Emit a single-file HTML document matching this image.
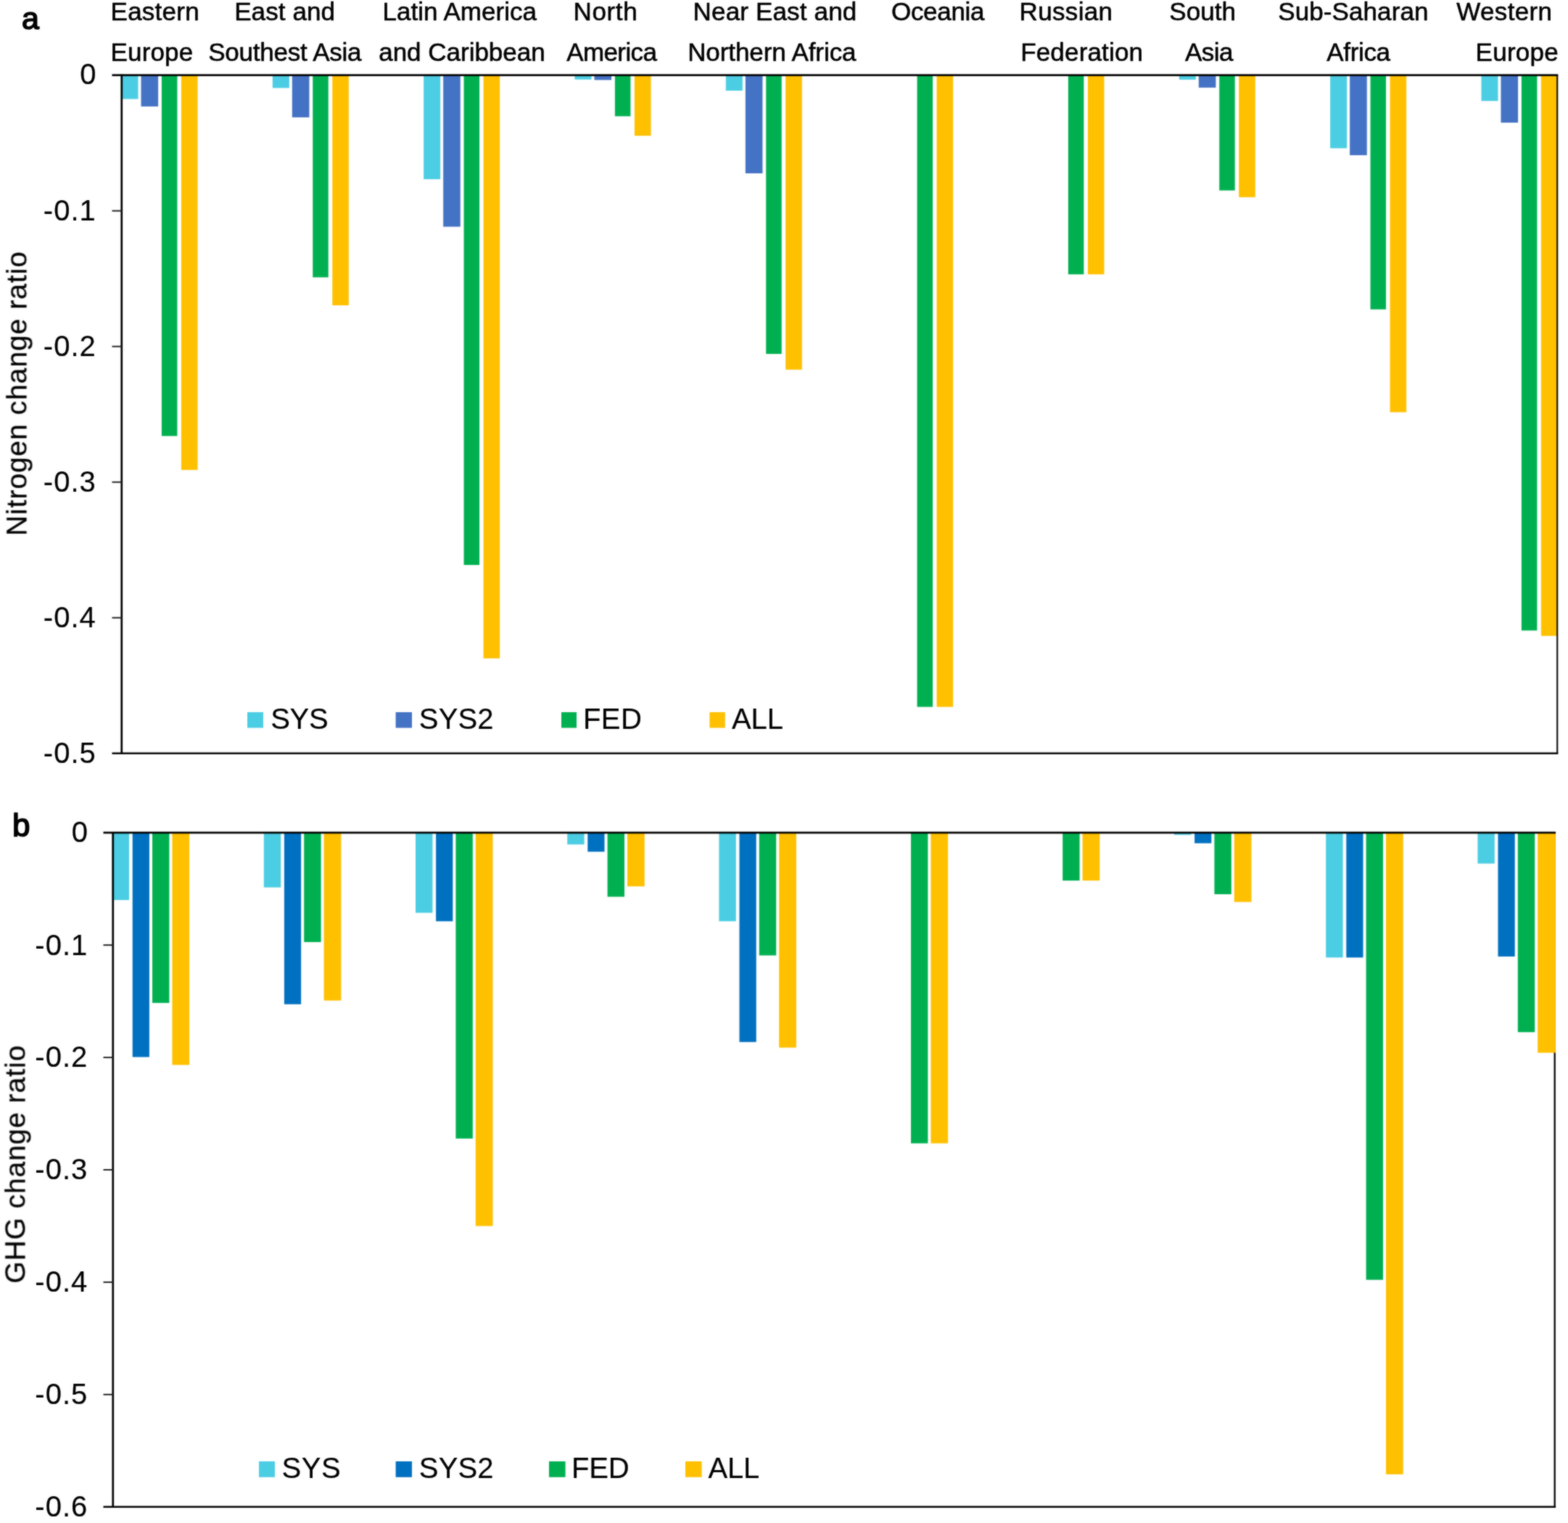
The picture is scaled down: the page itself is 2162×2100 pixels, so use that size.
<!DOCTYPE html>
<html lang="en">
<head>
<meta charset="utf-8">
<title>Nitrogen and GHG change ratio by region</title>
<style>
html,body{margin:0;padding:0;background:#fff;}
body{width:2162px;height:2100px;overflow:hidden;}
svg{display:block;}
text{white-space:pre;}
</style>
</head>
<body>
<svg width="2162" height="2100" viewBox="0 0 2162 2100">
<rect width="2162" height="2100" fill="#fff"/>
<defs><filter id="fs" filterUnits="userSpaceOnUse" x="0" y="0" width="2162" height="2100" color-interpolation-filters="sRGB"><feGaussianBlur in="SourceGraphic" stdDeviation="0.8" result="b"/><feComposite in="b" in2="SourceGraphic" operator="arithmetic" k1="0" k2="0.6" k3="0.4" k4="0"/></filter><filter id="ft" filterUnits="userSpaceOnUse" x="0" y="0" width="2162" height="2100" color-interpolation-filters="sRGB"><feGaussianBlur in="SourceGraphic" stdDeviation="0.8" result="b"/><feComposite in="b" in2="SourceGraphic" operator="arithmetic" k1="0" k2="0.55" k3="0.45" k4="0"/></filter></defs>
<g filter="url(#fs)" shape-rendering="geometricPrecision">
<rect x="167.50" y="103.70" width="23.00" height="32.80" fill="#4BCDE3"/>
<rect x="194.50" y="103.70" width="23.60" height="43.10" fill="#4472C4"/>
<rect x="222.90" y="103.70" width="21.50" height="497.50" fill="#00B050"/>
<rect x="249.90" y="103.70" width="22.60" height="544.30" fill="#FFC000"/>
<rect x="375.83" y="103.70" width="23.00" height="17.60" fill="#4BCDE3"/>
<rect x="402.83" y="103.70" width="23.60" height="58.10" fill="#4472C4"/>
<rect x="431.23" y="103.70" width="21.50" height="278.70" fill="#00B050"/>
<rect x="458.23" y="103.70" width="22.60" height="317.30" fill="#FFC000"/>
<rect x="584.16" y="103.70" width="23.00" height="143.40" fill="#4BCDE3"/>
<rect x="611.16" y="103.70" width="23.60" height="208.90" fill="#4472C4"/>
<rect x="639.56" y="103.70" width="21.50" height="675.30" fill="#00B050"/>
<rect x="666.56" y="103.70" width="22.60" height="804.10" fill="#FFC000"/>
<rect x="792.49" y="103.70" width="23.00" height="5.90" fill="#4BCDE3"/>
<rect x="819.49" y="103.70" width="23.60" height="6.60" fill="#4472C4"/>
<rect x="847.89" y="103.70" width="21.50" height="56.60" fill="#00B050"/>
<rect x="874.89" y="103.70" width="22.60" height="83.50" fill="#FFC000"/>
<rect x="1000.82" y="103.70" width="23.00" height="21.30" fill="#4BCDE3"/>
<rect x="1027.82" y="103.70" width="23.60" height="135.30" fill="#4472C4"/>
<rect x="1056.22" y="103.70" width="21.50" height="384.30" fill="#00B050"/>
<rect x="1083.22" y="103.70" width="22.60" height="406.00" fill="#FFC000"/>
<rect x="1264.55" y="103.70" width="21.50" height="871.00" fill="#00B050"/>
<rect x="1291.55" y="103.70" width="22.60" height="871.00" fill="#FFC000"/>
<rect x="1472.88" y="103.70" width="21.50" height="274.60" fill="#00B050"/>
<rect x="1499.88" y="103.70" width="22.60" height="274.60" fill="#FFC000"/>
<rect x="1625.81" y="103.70" width="23.00" height="6.10" fill="#4BCDE3"/>
<rect x="1652.81" y="103.70" width="23.60" height="17.10" fill="#4472C4"/>
<rect x="1681.21" y="103.70" width="21.50" height="158.90" fill="#00B050"/>
<rect x="1708.21" y="103.70" width="22.60" height="168.20" fill="#FFC000"/>
<rect x="1834.14" y="103.70" width="23.00" height="100.70" fill="#4BCDE3"/>
<rect x="1861.14" y="103.70" width="23.60" height="110.30" fill="#4472C4"/>
<rect x="1889.54" y="103.70" width="21.50" height="322.90" fill="#00B050"/>
<rect x="1916.54" y="103.70" width="22.60" height="464.70" fill="#FFC000"/>
<rect x="2042.47" y="103.70" width="23.00" height="35.50" fill="#4BCDE3"/>
<rect x="2069.47" y="103.70" width="23.60" height="65.40" fill="#4472C4"/>
<rect x="2097.87" y="103.70" width="21.50" height="765.70" fill="#00B050"/>
<rect x="2124.87" y="103.70" width="22.83" height="773.10" fill="#FFC000"/>
<line x1="2147.20" y1="103.70" x2="2147.20" y2="1038.80" stroke="#111" stroke-width="2.2"/>
<line x1="154.50" y1="1038.80" x2="2148.30" y2="1038.80" stroke="#000" stroke-width="2.5"/>
<line x1="167.75" y1="102.45" x2="167.75" y2="1040.00" stroke="#000" stroke-width="2.7"/>
<line x1="154.50" y1="103.70" x2="2148.30" y2="103.70" stroke="#000" stroke-width="2.7"/>
<line x1="154.50" y1="290.72" x2="167.75" y2="290.72" stroke="#222" stroke-width="2.0"/>
<line x1="154.50" y1="477.74" x2="167.75" y2="477.74" stroke="#222" stroke-width="2.0"/>
<line x1="154.50" y1="664.76" x2="167.75" y2="664.76" stroke="#222" stroke-width="2.0"/>
<line x1="154.50" y1="851.78" x2="167.75" y2="851.78" stroke="#222" stroke-width="2.0"/>
<line x1="2143.70" y1="1148.20" x2="2143.70" y2="2077.80" stroke="#000" stroke-width="2.3"/>
<rect x="154.60" y="1148.20" width="23.40" height="92.80" fill="#4BCDE3"/>
<rect x="182.70" y="1148.20" width="23.20" height="309.30" fill="#0070C0"/>
<rect x="210.00" y="1148.20" width="23.40" height="234.70" fill="#00B050"/>
<rect x="237.40" y="1148.20" width="23.70" height="320.20" fill="#FFC000"/>
<rect x="363.80" y="1148.20" width="23.40" height="75.40" fill="#4BCDE3"/>
<rect x="391.90" y="1148.20" width="23.20" height="236.50" fill="#0070C0"/>
<rect x="419.20" y="1148.20" width="23.40" height="150.80" fill="#00B050"/>
<rect x="446.60" y="1148.20" width="23.70" height="231.40" fill="#FFC000"/>
<rect x="573.00" y="1148.20" width="23.40" height="110.40" fill="#4BCDE3"/>
<rect x="601.10" y="1148.20" width="23.20" height="122.10" fill="#0070C0"/>
<rect x="628.40" y="1148.20" width="23.40" height="421.70" fill="#00B050"/>
<rect x="655.80" y="1148.20" width="23.70" height="542.30" fill="#FFC000"/>
<rect x="782.20" y="1148.20" width="23.40" height="16.20" fill="#4BCDE3"/>
<rect x="810.30" y="1148.20" width="23.20" height="26.20" fill="#0070C0"/>
<rect x="837.60" y="1148.20" width="23.40" height="88.30" fill="#00B050"/>
<rect x="865.00" y="1148.20" width="23.70" height="74.00" fill="#FFC000"/>
<rect x="991.40" y="1148.20" width="23.40" height="122.10" fill="#4BCDE3"/>
<rect x="1019.50" y="1148.20" width="23.20" height="288.60" fill="#0070C0"/>
<rect x="1046.80" y="1148.20" width="23.40" height="169.20" fill="#00B050"/>
<rect x="1074.20" y="1148.20" width="23.70" height="296.30" fill="#FFC000"/>
<rect x="1256.00" y="1148.20" width="23.40" height="428.30" fill="#00B050"/>
<rect x="1283.40" y="1148.20" width="23.70" height="428.30" fill="#FFC000"/>
<rect x="1465.20" y="1148.20" width="23.40" height="66.00" fill="#00B050"/>
<rect x="1492.60" y="1148.20" width="23.70" height="66.00" fill="#FFC000"/>
<rect x="1619.00" y="1148.20" width="23.40" height="3.00" fill="#4BCDE3"/>
<rect x="1647.10" y="1148.20" width="23.20" height="14.50" fill="#0070C0"/>
<rect x="1674.40" y="1148.20" width="23.40" height="84.80" fill="#00B050"/>
<rect x="1701.80" y="1148.20" width="23.70" height="95.50" fill="#FFC000"/>
<rect x="1828.20" y="1148.20" width="23.40" height="172.10" fill="#4BCDE3"/>
<rect x="1856.30" y="1148.20" width="23.20" height="172.10" fill="#0070C0"/>
<rect x="1883.60" y="1148.20" width="23.40" height="616.50" fill="#00B050"/>
<rect x="1911.00" y="1148.20" width="23.70" height="884.70" fill="#FFC000"/>
<rect x="2037.40" y="1148.20" width="23.40" height="42.50" fill="#4BCDE3"/>
<rect x="2065.50" y="1148.20" width="23.20" height="170.70" fill="#0070C0"/>
<rect x="2092.80" y="1148.20" width="23.40" height="275.00" fill="#00B050"/>
<rect x="2120.20" y="1148.20" width="24.70" height="303.40" fill="#FFC000"/>
<line x1="142.50" y1="2077.80" x2="2145.10" y2="2077.80" stroke="#000" stroke-width="2.5"/>
<line x1="155.75" y1="1146.95" x2="155.75" y2="2079.00" stroke="#000" stroke-width="2.7"/>
<line x1="142.50" y1="1148.20" x2="2145.10" y2="1148.20" stroke="#000" stroke-width="2.7"/>
<line x1="142.50" y1="1303.13" x2="155.75" y2="1303.13" stroke="#222" stroke-width="2.0"/>
<line x1="142.50" y1="1458.07" x2="155.75" y2="1458.07" stroke="#222" stroke-width="2.0"/>
<line x1="142.50" y1="1613.00" x2="155.75" y2="1613.00" stroke="#222" stroke-width="2.0"/>
<line x1="142.50" y1="1767.93" x2="155.75" y2="1767.93" stroke="#222" stroke-width="2.0"/>
<line x1="142.50" y1="1922.87" x2="155.75" y2="1922.87" stroke="#222" stroke-width="2.0"/>
<rect x="341.00" y="982.00" width="22.00" height="21.60" fill="#4BCDE3"/>
<rect x="545.60" y="982.00" width="22.40" height="21.60" fill="#4472C4"/>
<rect x="774.00" y="982.00" width="21.00" height="21.60" fill="#00B050"/>
<rect x="978.40" y="982.00" width="21.40" height="21.60" fill="#FFC000"/>
<rect x="357.00" y="2015.00" width="22.00" height="21.80" fill="#4BCDE3"/>
<rect x="545.60" y="2015.00" width="22.40" height="21.80" fill="#0070C0"/>
<rect x="757.00" y="2015.00" width="22.60" height="21.80" fill="#00B050"/>
<rect x="945.00" y="2015.00" width="22.60" height="21.80" fill="#FFC000"/>
</g>
<g filter="url(#ft)" font-family="'Liberation Sans', Arial, sans-serif" fill="#000" stroke="#000" stroke-width="0.6" stroke-linejoin="round">
<text x="110.15" y="116.20" font-size="40" stroke-width="0.2">0</text>
<text x="59.85" y="304.22" font-size="40" stroke-width="0.2" letter-spacing="1.000">-0.1</text>
<text x="59.85" y="491.24" font-size="40" stroke-width="0.2" letter-spacing="1.000">-0.2</text>
<text x="59.85" y="678.26" font-size="40" stroke-width="0.2" letter-spacing="1.000">-0.3</text>
<text x="59.85" y="865.28" font-size="40" stroke-width="0.2" letter-spacing="1.000">-0.4</text>
<text x="59.85" y="1052.30" font-size="40" stroke-width="0.2" letter-spacing="1.000">-0.5</text>
<text x="98.85" y="1160.80" font-size="40" stroke-width="0.2">0</text>
<text x="48.35" y="1316.53" font-size="40" stroke-width="0.2" letter-spacing="1.000">-0.1</text>
<text x="48.35" y="1471.47" font-size="40" stroke-width="0.2" letter-spacing="1.000">-0.2</text>
<text x="48.35" y="1626.40" font-size="40" stroke-width="0.2" letter-spacing="1.000">-0.3</text>
<text x="48.35" y="1781.33" font-size="40" stroke-width="0.2" letter-spacing="1.000">-0.4</text>
<text x="48.35" y="1936.27" font-size="40" stroke-width="0.2" letter-spacing="1.000">-0.5</text>
<text x="48.35" y="2091.20" font-size="40" stroke-width="0.2" letter-spacing="1.000">-0.6</text>
<text x="152.57" y="28.40" font-size="35" letter-spacing="0.247">Eastern</text>
<text x="152.57" y="84.00" font-size="35" letter-spacing="0.138">Europe</text>
<text x="323.17" y="28.40" font-size="35" letter-spacing="0.106">East and</text>
<text x="287.21" y="84.00" font-size="35" letter-spacing="-0.224">Southest Asia</text>
<text x="527.57" y="28.40" font-size="35" letter-spacing="0.028">Latin America</text>
<text x="522.21" y="84.00" font-size="35" letter-spacing="-0.013">and Caribbean</text>
<text x="790.57" y="28.40" font-size="35" letter-spacing="0.628">North</text>
<text x="781.30" y="84.00" font-size="35" letter-spacing="-0.631">America</text>
<text x="955.57" y="28.40" font-size="35" letter-spacing="0.163">Near East and</text>
<text x="948.17" y="84.00" font-size="35" letter-spacing="-0.075">Northern Africa</text>
<text x="1229.06" y="28.40" font-size="35" letter-spacing="-0.324">Oceania</text>
<text x="1405.57" y="28.40" font-size="35" letter-spacing="0.342">Russian</text>
<text x="1407.17" y="84.00" font-size="35" letter-spacing="0.175">Federation</text>
<text x="1612.21" y="28.40" font-size="35" letter-spacing="0.099">South</text>
<text x="1633.90" y="84.00" font-size="35" letter-spacing="-0.503">Asia</text>
<text x="1762.21" y="28.40" font-size="35" letter-spacing="0.100">Sub-Saharan</text>
<text x="1829.30" y="84.00" font-size="35" letter-spacing="-0.338">Africa</text>
<text x="2008.30" y="28.40" font-size="35" letter-spacing="0.348">Western</text>
<text x="2034.57" y="84.00" font-size="35" letter-spacing="0.258">Europe</text>
<text x="29.91" y="39.50" font-size="43" stroke-width="1.7">a</text>
<text x="17.10" y="1152.80" font-size="44" stroke-width="1.7">b</text>
<text transform="translate(36.40,738.90) rotate(-90)" font-size="39" stroke-width="0.3" letter-spacing="0.946">Nitrogen change ratio</text>
<text transform="translate(34.40,1769.68) rotate(-90)" font-size="39" stroke-width="0.3" letter-spacing="0.919">GHG change ratio</text>
<text x="373.25" y="1004.60" font-size="40" stroke-width="0.2" letter-spacing="-0.355">SYS</text>
<text x="577.85" y="1004.60" font-size="40" stroke-width="0.2" letter-spacing="0.129">SYS2</text>
<text x="803.98" y="1004.60" font-size="40" stroke-width="0.2" letter-spacing="0.456">FED</text>
<text x="1009.10" y="1004.60" font-size="40" stroke-width="0.2" letter-spacing="-0.188">ALL</text>
<text x="388.45" y="2037.60" font-size="40" stroke-width="0.2" letter-spacing="0.545">SYS</text>
<text x="577.85" y="2037.60" font-size="40" stroke-width="0.2" letter-spacing="0.129">SYS2</text>
<text x="787.98" y="2037.60" font-size="40" stroke-width="0.2" letter-spacing="-0.144">FED</text>
<text x="976.50" y="2037.60" font-size="40" stroke-width="0.2" letter-spacing="-0.188">ALL</text>
</g>
</svg>
</body>
</html>
